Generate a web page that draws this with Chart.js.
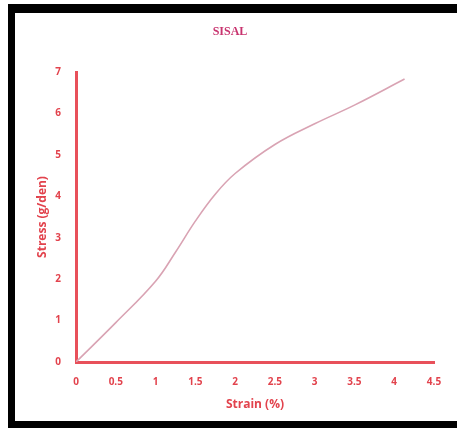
<!DOCTYPE html>
<html>
<head>
<meta charset="utf-8">
<script src="https://cdn.jsdelivr.net/npm/chart.js@4.4.0/dist/chart.umd.min.js"></script>
<style>
  html, body { margin: 0; padding: 0; background: #fff; }
  #frame {
    position: absolute; left: 8px; top: 4px; width: 449px; height: 424px;
    border-top: 9px solid #000; border-left: 7px solid #000; border-bottom: 7px solid #000;
    box-sizing: border-box;
  }
  #wrap { position: absolute; left: 0; top: 0; width: 457px; height: 435px; }
</style>
</head>
<body>
<div id="frame"></div>
<div id="wrap"><canvas id="sisalChart" width="457" height="435"></canvas></div>
<script>
// values
const strain = [0, 0.5, 1, 1.25, 1.5, 1.75, 2, 2.5, 3, 3.5, 4.13];
const stress = [0, 0.95, 1.95, 2.65, 3.4, 4.05, 4.55, 5.25, 5.75, 6.2, 6.83];
const xTicks = [0, 0.5, 1, 1.5, 2, 2.5, 3, 3.5, 4, 4.5];
const yTicks = [0, 1, 2, 3, 4, 5, 6, 7];

const axisRed = "#e8505a";
const labelRed = "#e2434d";

const ctx = document.getElementById("sisalChart").getContext("2d");
new Chart(ctx, {
  type: "scatter",
  data: {
    datasets: [
      {
        label: "SISAL",
        data: strain.map((x, i) => ({ x: x, y: stress[i] })),
        showLine: true,
        borderColor: "#d9a3b3",
        borderWidth: 1.6,
        pointRadius: 0,
        tension: 0.4,
      },
    ],
  },
  options: {
    responsive: false,
    animation: false,
    layout: { padding: { top: 0, right: 23, bottom: 0, left: 26 } },
    plugins: {
      legend: { display: false },
      tooltip: { enabled: false },
      title: {
        display: true,
        text: "SISAL",
        color: "#c8336e",
        font: { family: "Liberation Serif", size: 12, weight: "bold", lineHeight: 1.2 },
        padding: { top: 25, bottom: 32.6 },
      },
    },
    scales: {
      x: {
        type: "linear",
        min: 0,
        max: 4.5,
        afterBuildTicks: (s) => { s.ticks = xTicks.map((v) => ({ value: v })); },
        afterFit: (s) => { s.height = 73; s.paddingLeft = 0; s.paddingRight = 0; },
        grid: { display: false, drawTicks: false },
        border: { display: true, color: axisRed, width: 3 },
        ticks: {
          color: labelRed,
          padding: 14,
          callback: (v) => String(v),
          font: { family: "Open Sans", size: 10, weight: "bold" },
        },
        title: {
          display: true,
          text: "Strain (%)",
          color: labelRed,
          font: { family: "Open Sans", size: 12, weight: "bold" },
          padding: { top: 0, bottom: 23 },
        },
      },
      y: {
        type: "linear",
        min: 0,
        max: 7,
        afterBuildTicks: (s) => { s.ticks = yTicks.map((v) => ({ value: v })); },
        afterFit: (s) => { s.width = 50; s.paddingTop = 0; s.paddingBottom = 0; },
        grid: { display: false, drawTicks: false },
        border: { display: true, color: axisRed, width: 3 },
        ticks: {
          color: labelRed,
          padding: 15,
          callback: (v) => String(v),
          font: { family: "Open Sans", size: 10, weight: "bold" },
        },
        title: {
          display: true,
          text: "Stress (g/den)",
          color: labelRed,
          font: { family: "Open Sans", size: 12, weight: "bold" },
          padding: { top: 9, bottom: 0 },
        },
      },
    },
  },
});
</script>
</body>
</html>
